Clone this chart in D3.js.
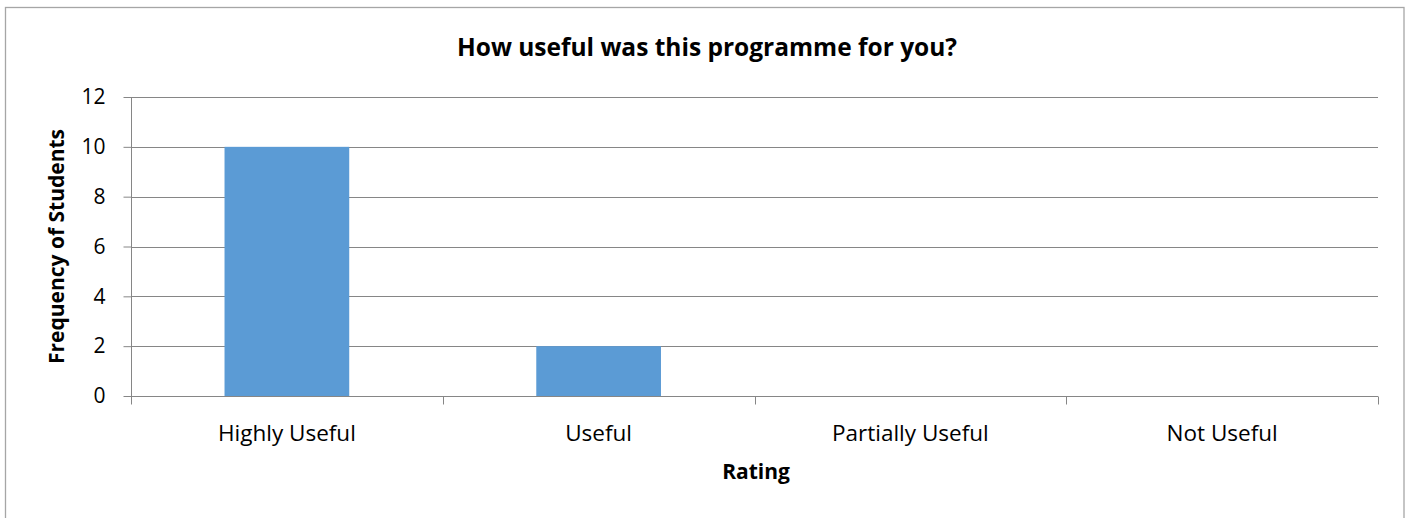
<!DOCTYPE html>
<html><head><meta charset="utf-8">
<script src="https://cdn.jsdelivr.net/npm/d3@7"></script>
<style>body{margin:0;background:#fff}svg{display:block}text{font-family:"Open Sans",sans-serif}</style>
</head><body>
<svg id="c" width="1412" height="518"></svg>
<script>
const categories = ["Highly Useful", "Useful", "Partially Useful", "Not Useful"];
const values = [10, 2, 0, 0];
const yTicks = [0, 2, 4, 6, 8, 10, 12];
const title = "How useful was this programme for you?";
const xTitle = "Rating";
const yTitle = "Frequency of Students";

const svg = d3.select("#c");
const L = 131, R = 1378, T = 97, B = 396;
svg.append("rect").attr("x", 5.5).attr("y", 7.5).attr("width", 1398.5).attr("height", 530)
  .attr("fill", "#fff").attr("stroke", "#a6a6a6").attr("stroke-width", 1.3);

const x = d3.scaleBand().domain(categories).range([L, R]).paddingInner(0.6).paddingOuter(0.3);
const y = d3.scaleLinear().domain([0, 12]).range([B, T]);

// gridlines
svg.append("g").selectAll("line").data(yTicks.filter(d => d > 0)).join("line")
  .attr("x1", L).attr("x2", R).attr("y1", d => Math.round(y(d)) + 0.5).attr("y2", d => Math.round(y(d)) + 0.5)
  .attr("stroke", "#868686").attr("stroke-width", 1);

// bars
svg.append("g").selectAll("rect").data(values).join("rect")
  .attr("x", (d, i) => x(categories[i])).attr("width", x.bandwidth())
  .attr("y", d => y(d)).attr("height", d => B - y(d)).attr("fill", "#5b9bd5");

// y axis
const ya = svg.append("g").attr("transform", `translate(${L + 0.5},0)`)
  .call(d3.axisLeft(y).tickValues(yTicks).tickSize(8).tickPadding(18));
ya.select(".domain").attr("stroke", "#868686").attr("d", `M0,${T}V${B}`);
ya.selectAll(".tick line").attr("stroke", "#868686");
ya.selectAll(".tick text").attr("font-size", 21).attr("fill", "#000").attr("font-family", "Open Sans");

// x axis
const xa = svg.append("g").attr("transform", `translate(0,${B + 0.5})`);
xa.append("line").attr("x1", L).attr("x2", R).attr("stroke", "#868686");
const edges = d3.range(categories.length + 1).map(i => L + i * x.step());
xa.selectAll(".tk").data(edges).join("line").attr("class", "tk")
  .attr("x1", d => Math.round(d) + 0.5).attr("x2", d => Math.round(d) + 0.5).attr("y1", 0).attr("y2", 8)
  .attr("stroke", "#868686");
xa.selectAll(".lb").data(categories).join("text").attr("class", "lb")
  .attr("x", d => x(d) + x.bandwidth() / 2).attr("y", 44).attr("text-anchor", "middle")
  .attr("font-size", 22.5).attr("fill", "#000").text(d => d);

svg.append("text").attr("x", 707).attr("y", 56).attr("text-anchor", "middle")
  .attr("font-size", 24.5).attr("font-weight", "bold").text(title);
svg.append("text").attr("x", 756).attr("y", 479).attr("text-anchor", "middle")
  .attr("font-size", 21).attr("font-weight", "bold").text(xTitle);
svg.append("text").attr("transform", `translate(64,${(T + B) / 2}) rotate(-90)`).attr("text-anchor", "middle")
  .attr("font-size", 21).attr("font-weight", "bold").text(yTitle);
</script>
</body></html>
